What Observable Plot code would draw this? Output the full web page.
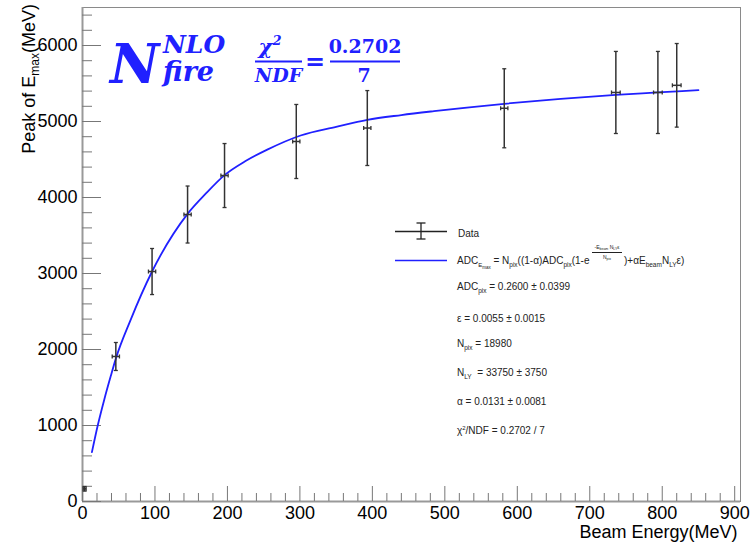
<!DOCTYPE html>
<html><head><meta charset="utf-8">
<script src="https://cdn.jsdelivr.net/npm/d3@7"></script>
<script src="https://cdn.jsdelivr.net/npm/@observablehq/plot@0.6"></script>
<style>body{margin:0;background:#fff;} #chart{width:754px;height:544px;}</style>
</head><body><div id="chart"></div>
<script>
// Data points
const energy    = [3, 46, 96, 145, 196, 295, 393, 582, 736, 794, 820];
const energyErr = [2, 5, 5, 5, 5, 5, 5, 5, 6, 6, 6];
const peak      = [167, 1908, 3026, 3776, 4289, 4737, 4914, 5174, 5382, 5382, 5476];
const peakErr   = [30, 184, 303, 375, 421, 487, 493, 520, 540, 540, 550];

// Fit curve samples
const fitE = [13, 21, 30, 39, 46, 66, 96, 145, 170, 196, 225, 255, 301, 350, 393, 440, 485, 582, 660, 736, 794, 850];
const fitY = [649, 1000, 1340, 1650, 1880, 2380, 3026, 3785, 4050, 4295, 4480, 4630, 4816, 4930, 5022, 5085, 5136, 5233, 5299, 5351, 5382, 5412];

// Tick values
const majorX = [0, 100, 200, 300, 400, 500, 600, 700, 800, 900];
const minorX = d3.range(0, 901, 20).filter(v => v % 100 !== 0);
const majorY = [0, 1000, 2000, 3000, 4000, 5000, 6000];
const minorY = d3.range(0, 6401, 200).filter(v => v % 1000 !== 0);

const points = energy.map((e, i) => ({e, ee: energyErr[i], p: peak[i], ep: peakErr[i]}));
const fit = fitE.map((e, i) => ({e, y: fitY[i]}));

const capH = {draw(ctx, size) { const r = Math.sqrt(size / Math.PI); ctx.moveTo(-r, 0); ctx.lineTo(r, 0); }};
const capV = {draw(ctx, size) { const r = Math.sqrt(size / Math.PI); ctx.moveTo(0, -r); ctx.lineTo(0, r); }};

const blue = "#2020ff";
const errColor = "#333";
const axisGray = "#777";

const plot = Plot.plot({
  width: 754, height: 544,
  marginLeft: 82, marginRight: 14, marginTop: 7, marginBottom: 43,
  style: {fontFamily: "'Liberation Sans', Arial, sans-serif", background: "#fff", color: "#000"},
  x: {domain: [0, 908], label: null},
  y: {domain: [0, 6500], label: null},
  marks: [
    Plot.frame({stroke: "#8a8a8a", strokeWidth: 1}),
    Plot.ruleX([0], {stroke: "#999", strokeWidth: 2}),
    Plot.ruleY([0], {stroke: "#999", strokeWidth: 2}),
    Plot.axisX({ticks: minorX, tickSize: -8, fill: "none", stroke: axisGray, label: null}),
    Plot.axisX({ticks: majorX, tickSize: -15, fill: "none", stroke: axisGray, label: null}),
    Plot.axisX({ticks: majorX, tickSize: 0, tickPadding: 5, fontSize: 18, fill: "#000", tickFormat: d => String(d), label: null}),
    Plot.axisY({ticks: minorY, tickSize: -10, fill: "none", stroke: axisGray, label: null}),
    Plot.axisY({ticks: majorY, tickSize: -19, fill: "none", stroke: axisGray, label: null}),
    Plot.axisY({ticks: majorY, tickSize: 0, tickPadding: 5, fontSize: 18, fill: "#000", tickFormat: d => String(d), label: null}),
    Plot.line(fit, {x: "e", y: "y", stroke: blue, strokeWidth: 1.8, curve: "monotone-x"}),
    Plot.link(points, {x1: "e", x2: "e", y1: d => d.p - d.ep, y2: d => d.p + d.ep, stroke: errColor, strokeWidth: 1.5}),
    Plot.link(points, {x1: d => d.e - d.ee, x2: d => d.e + d.ee, y1: "p", y2: "p", stroke: errColor, strokeWidth: 1.5}),
    Plot.dot(points, {x: "e", y: d => d.p + d.ep, symbol: capH, r: 2, stroke: errColor, fill: "none", strokeWidth: 1.3}),
    Plot.dot(points, {x: "e", y: d => d.p - d.ep, symbol: capH, r: 2, stroke: errColor, fill: "none", strokeWidth: 1.3}),
    Plot.dot(points, {x: d => d.e - d.ee, y: "p", symbol: capV, r: 2, stroke: errColor, fill: "none", strokeWidth: 1.3}),
    Plot.dot(points, {x: d => d.e + d.ee, y: "p", symbol: capV, r: 2, stroke: errColor, fill: "none", strokeWidth: 1.3}),
    Plot.text(["Beam Energy(MeV)"], {frameAnchor: "bottom-right", lineAnchor: "middle", dx: -3, dy: 31, fontSize: 18, textAnchor: "end", fill: "#000"})
  ]
});
document.getElementById("chart").appendChild(plot);

const svg = d3.select(plot);

// Y axis title with subscript
const yl = svg.append("text").attr("transform", "translate(35,4) rotate(-90)")
  .attr("text-anchor", "end").attr("font-size", 18).attr("fill", "#000")
  .attr("font-family", "'Liberation Sans', Arial, sans-serif");
yl.append("tspan").text("Peak of E");
yl.append("tspan").attr("font-size", 12).attr("dy", 4).text("max");
yl.append("tspan").attr("dy", -4).text("(MeV)");

// Big blue annotation
const serif = "'DejaVu Serif', serif";
const ann = svg.append("g").attr("fill", blue).attr("font-family", serif).attr("font-weight", "bold").attr("text-anchor", "start");
ann.append("text").attr("x", 110).attr("y", 83).attr("font-size", 54).attr("font-style", "italic").text("N");
ann.append("text").attr("x", 163).attr("y", 53).attr("font-size", 25).attr("font-style", "italic").text("NLO");
ann.append("text").attr("x", 163).attr("y", 81).attr("font-size", 27).attr("font-style", "italic").text("fire");
const chi = ann.append("text").attr("x", 270).attr("y", 54).attr("font-size", 21).attr("font-style", "italic").attr("text-anchor", "middle");
chi.append("tspan").text("χ");
chi.append("tspan").attr("font-size", 13).attr("dy", -9).text("2");
ann.append("line").attr("x1", 255).attr("x2", 302).attr("y1", 61.5).attr("y2", 61.5).attr("stroke", blue).attr("stroke-width", 2);
ann.append("text").attr("x", 278.5).attr("y", 82).attr("font-size", 19).attr("font-style", "italic").attr("text-anchor", "middle").text("NDF");
ann.append("text").attr("x", 315).attr("y", 70).attr("font-size", 24).attr("text-anchor", "middle").text("=");
ann.append("text").attr("x", 365).attr("y", 53).attr("font-size", 19).attr("text-anchor", "middle").text("0.2702");
ann.append("line").attr("x1", 330).attr("x2", 400).attr("y1", 61.5).attr("y2", 61.5).attr("stroke", blue).attr("stroke-width", 2);
ann.append("text").attr("x", 364).attr("y", 82).attr("font-size", 19).attr("text-anchor", "middle").text("7");

// Legend / fit box
const lg = svg.append("g").attr("font-family", "'Liberation Sans', Arial, sans-serif").attr("font-size", 10).attr("fill", "#222").attr("text-anchor", "start");
lg.append("line").attr("x1", 395).attr("x2", 447).attr("y1", 231.5).attr("y2", 231.5).attr("stroke", "#222").attr("stroke-width", 1.3);
lg.append("line").attr("x1", 421).attr("x2", 421).attr("y1", 223).attr("y2", 239).attr("stroke", "#222").attr("stroke-width", 1.3);
lg.append("line").attr("x1", 416.5).attr("x2", 425.5).attr("y1", 223).attr("y2", 223).attr("stroke", "#222").attr("stroke-width", 1.3);
lg.append("line").attr("x1", 416.5).attr("x2", 425.5).attr("y1", 239).attr("y2", 239).attr("stroke", "#222").attr("stroke-width", 1.3);
lg.append("text").attr("x", 458).attr("y", 236.5).text("Data");
lg.append("line").attr("x1", 395).attr("x2", 447).attr("y1", 260.5).attr("y2", 260.5).attr("stroke", blue).attr("stroke-width", 1.5);

const f1 = lg.append("text").attr("x", 457).attr("y", 264);
f1.append("tspan").text("ADC");
f1.append("tspan").attr("font-size", 6).attr("dy", 3).text("E");
f1.append("tspan").attr("font-size", 4.5).attr("dy", 1.5).text("max");
f1.append("tspan").attr("dy", -4.5).text(" = N");
f1.append("tspan").attr("font-size", 6.5).attr("dy", 3).text("pix");
f1.append("tspan").attr("dy", -3).text("((1-α)ADC");
f1.append("tspan").attr("font-size", 6.5).attr("dy", 3).text("pix");
f1.append("tspan").attr("dy", -3).text("(1-e");
const num = lg.append("text").attr("x", 607).attr("y", 249).attr("font-size", 5).attr("text-anchor", "middle");
num.append("tspan").text("-E");
num.append("tspan").attr("font-size", 3.5).attr("dy", 1).text("beam");
num.append("tspan").attr("dy", -1).text(" N");
num.append("tspan").attr("font-size", 3.5).attr("dy", 1).text("LY");
num.append("tspan").attr("dy", -1).text("ε");
lg.append("line").attr("x1", 592).attr("x2", 622).attr("y1", 252.5).attr("y2", 252.5).attr("stroke", "#222").attr("stroke-width", 1);
const den = lg.append("text").attr("x", 607).attr("y", 258.5).attr("font-size", 5).attr("text-anchor", "middle");
den.append("tspan").text("N");
den.append("tspan").attr("font-size", 3.5).attr("dy", 1).text("pix");
const f2 = lg.append("text").attr("x", 624).attr("y", 264);
f2.append("tspan").text(")+αE");
f2.append("tspan").attr("font-size", 6.5).attr("dy", 3).text("beam");
f2.append("tspan").attr("dy", -3).text("N");
f2.append("tspan").attr("font-size", 6.5).attr("dy", 3).text("LY");
f2.append("tspan").attr("dy", -3).text("ε)");

function paramLine(y, main, sub, rest) {
  const t = lg.append("text").attr("x", 457).attr("y", y);
  t.append("tspan").text(main);
  if (sub) {
    t.append("tspan").attr("font-size", 6.5).attr("dy", 3).text(sub);
    t.append("tspan").attr("dy", -3).text(rest);
  }
  return t;
}
paramLine(290, "ADC", "pix", " = 0.2600 ± 0.0399");
paramLine(321.5, "ε = 0.0055 ± 0.0015");
paramLine(347, "N", "pix", " = 18980");
paramLine(376, "N", "LY", "  = 33750 ± 3750");
paramLine(405, "α = 0.0131 ± 0.0081");
const chiLine = lg.append("text").attr("x", 457).attr("y", 433.5);
chiLine.append("tspan").text("χ");
chiLine.append("tspan").attr("font-size", 6).attr("dy", -4).text("2");
chiLine.append("tspan").attr("dy", 4).text("/NDF = 0.2702 / 7");
</script>
</body></html>
